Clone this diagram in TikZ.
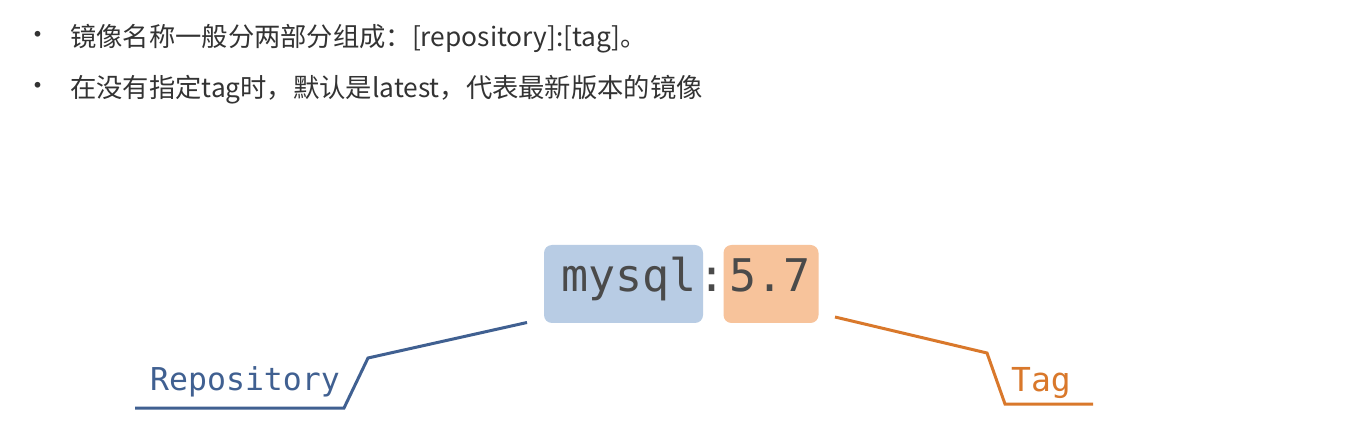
\documentclass[tikz,border=0pt]{standalone}
\usepackage{fontspec}
\setmainfont{Noto Sans CJK SC}
\newfontfamily\monof{DejaVu Sans Mono}
\definecolor{txt}{HTML}{333333}
\definecolor{boxtxt}{HTML}{4A4A4A}
\definecolor{bluefill}{HTML}{B8CCE4}
\definecolor{orangefill}{HTML}{F7C39B}
\definecolor{blueline}{HTML}{406091}
\definecolor{orangeline}{HTML}{D9782B}
\begin{document}
\begin{tikzpicture}[x=1pt,y=-1pt,
  bullettext/.style={anchor=base west,inner sep=0pt,text=txt,font=\fontsize{26.3}{31}\selectfont},
  dot/.style={anchor=center,inner sep=0pt,text=txt,font=\fontsize{27}{31}\selectfont},
  partbox/.style={draw=none,rounded corners=8pt,inner sep=0pt},
  monotext/.style={anchor=base west,inner sep=0pt,text=boxtxt,font=\monof\fontsize{45}{54}\selectfont},
  lbl/.style={anchor=base west,inner sep=0pt,font=\monof\fontsize{31.5}{38}\selectfont},
  leader/.style={line width=3pt,line join=miter}]
\path[use as bounding box,fill=white] (0,0) rectangle (1347,430);

% bullet lines
\node[dot] (b1) at (38,38) {•};
\node[bullettext] (t1) at (70,47) {镜像名称一般分两部分组成：[repository]:[tag]。};
\node[dot] (b2) at (38,89) {•};
\node[bullettext] (t2) at (70,98) {在没有指定tag时，默认是latest，代表最新版本的镜像};

% boxes
\node[partbox,fill=bluefill,minimum width=159pt,minimum height=78pt] (repobox) at (623.5,284) {};
\node[partbox,fill=orangefill,minimum width=95pt,minimum height=78pt] (tagbox) at (771,284) {};

% mono text
\node[monotext] (mysql) at (561,292) {mysql};
\node[monotext,anchor=base] (colon) at (712,292) {:};
\node[monotext,anchor=base] (ver) at (770,292) {5.7};

% repository leader
\coordinate (r0) at (135,408);
\coordinate (r1) at (344,408);
\coordinate (r2) at (368,358);
\coordinate (r3) at (527,322.5);
\draw[leader,blueline] (r0) -- (r1) -- (r2) -- (r3);
\node[lbl,text=blueline] (replbl) at (150,390) {Repository};

% tag leader
\coordinate (g0) at (835,317);
\coordinate (g1) at (987,353);
\coordinate (g2) at (1005,404);
\coordinate (g3) at (1093,404);
\draw[leader,orangeline] (g0) -- (g1) -- (g2) -- (g3);
\node[lbl,text=orangeline,font=\monof\fontsize{33}{40}\selectfont] (taglbl) at (1011,391.5) {Tag};
\end{tikzpicture}
\end{document}
